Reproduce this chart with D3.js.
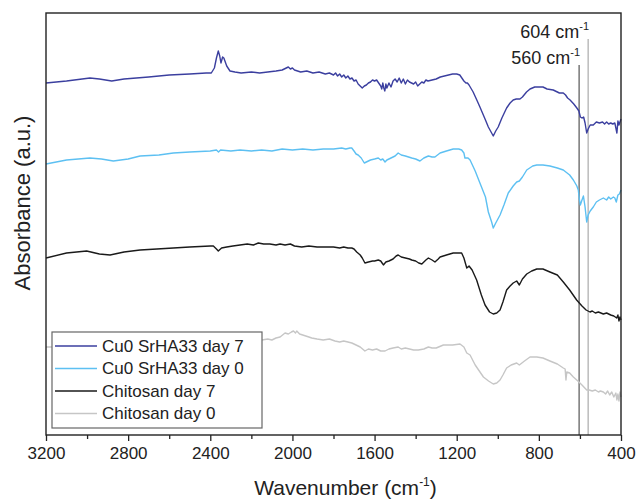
<!DOCTYPE html>
<html>
<head>
<meta charset="utf-8">
<script src="https://cdn.jsdelivr.net/npm/d3@7"></script>
<style>
  body { margin: 0; background: #fff; }
  text { font-family: "Liberation Sans", Arial, sans-serif; }
</style>
</head>
<body>
<div id="main"></div>
<script>
const ctx = {
    w: 636,
    h: 502,
};

// wavenumber (cm-1), absorbance (a.u., offset spectra)
const cuDay7 = [
    [3200, 1.76], [3100, 1.77], [2986, 1.785], [2940, 1.78], [2880, 1.77], [2820, 1.78],
    [2700, 1.79], [2600, 1.80], [2500, 1.805], [2420, 1.81], [2395, 1.81], [2380, 1.835],
    [2370, 1.885], [2361, 1.92], [2354, 1.895], [2348, 1.86], [2340, 1.89], [2334, 1.885],
    [2320, 1.845], [2304, 1.82], [2280, 1.815], [2250, 1.81], [2200, 1.815], [2160, 1.81],
    [2120, 1.815], [2080, 1.82], [2050, 1.825], [2030, 1.835], [2020, 1.84], [2010, 1.83],
    [2000, 1.835], [1990, 1.825], [1960, 1.815], [1930, 1.82], [1900, 1.81], [1870, 1.815],
    [1840, 1.805], [1820, 1.81], [1800, 1.80], [1790, 1.81], [1780, 1.795], [1770, 1.805],
    [1760, 1.79], [1750, 1.80], [1740, 1.785], [1730, 1.795], [1720, 1.78], [1710, 1.785],
    [1700, 1.77], [1690, 1.775], [1680, 1.755], [1670, 1.745], [1660, 1.735], [1650, 1.745],
    [1640, 1.75], [1630, 1.76], [1620, 1.765], [1610, 1.775], [1600, 1.77], [1590, 1.775],
    [1580, 1.76], [1570, 1.745], [1565, 1.73], [1560, 1.76], [1555, 1.735], [1550, 1.72],
    [1545, 1.755], [1540, 1.735], [1530, 1.76], [1520, 1.74], [1510, 1.77], [1500, 1.78],
    [1490, 1.765], [1480, 1.785], [1470, 1.76], [1460, 1.78], [1450, 1.755], [1440, 1.775],
    [1430, 1.765], [1420, 1.76], [1410, 1.755], [1400, 1.765], [1390, 1.745], [1380, 1.755],
    [1370, 1.765], [1360, 1.76], [1350, 1.775], [1340, 1.77], [1320, 1.775], [1300, 1.78],
    [1280, 1.79], [1260, 1.795], [1240, 1.80], [1220, 1.805], [1200, 1.805], [1185, 1.80],
    [1175, 1.785], [1165, 1.77], [1155, 1.76], [1148, 1.76], [1140, 1.75], [1120, 1.715],
    [1100, 1.67], [1087, 1.64], [1060, 1.575], [1046, 1.54], [1030, 1.51], [1022, 1.495],
    [1010, 1.52], [998, 1.54], [980, 1.585], [957, 1.635], [940, 1.66], [925, 1.675],
    [910, 1.68], [900, 1.68], [892, 1.68], [880, 1.69], [860, 1.715], [843, 1.73],
    [820, 1.74], [800, 1.74], [780, 1.74], [760, 1.73], [730, 1.725], [700, 1.71],
    [681, 1.71], [670, 1.70], [660, 1.685], [648, 1.675], [630, 1.655], [615, 1.635],
    [605, 1.62], [598, 1.59], [590, 1.585], [582, 1.59], [575, 1.56], [567, 1.51],
    [560, 1.53], [550, 1.55], [535, 1.55], [520, 1.565], [505, 1.56], [490, 1.565],
    [480, 1.555], [470, 1.565], [460, 1.555], [450, 1.56], [440, 1.555], [430, 1.56],
    [420, 1.51], [415, 1.57], [410, 1.55], [400, 1.58]
];

const cuDay0 = [
    [3200, 1.355], [3100, 1.375], [2986, 1.385], [2930, 1.38], [2872, 1.37], [2800, 1.38],
    [2742, 1.395], [2650, 1.40], [2580, 1.41], [2500, 1.415], [2400, 1.42], [2370, 1.425],
    [2360, 1.415], [2350, 1.425], [2300, 1.42], [2255, 1.425], [2200, 1.42], [2150, 1.425],
    [2100, 1.42], [2050, 1.43], [2000, 1.425], [1950, 1.43], [1900, 1.425], [1850, 1.43],
    [1800, 1.43], [1760, 1.435], [1740, 1.43], [1720, 1.435], [1711, 1.435], [1700, 1.42],
    [1690, 1.405], [1680, 1.40], [1665, 1.385], [1650, 1.36], [1640, 1.365], [1630, 1.37],
    [1620, 1.375], [1600, 1.38], [1582, 1.385], [1570, 1.375], [1560, 1.38], [1549, 1.365],
    [1540, 1.375], [1520, 1.385], [1500, 1.395], [1485, 1.41], [1470, 1.40], [1450, 1.395],
    [1419, 1.385], [1400, 1.38], [1379, 1.37], [1360, 1.385], [1338, 1.395], [1320, 1.39],
    [1306, 1.39], [1281, 1.41], [1250, 1.42], [1217, 1.43], [1190, 1.43], [1176, 1.425],
    [1165, 1.41], [1160, 1.385], [1145, 1.385], [1135, 1.375], [1110, 1.32], [1087, 1.26],
    [1060, 1.19], [1046, 1.115], [1030, 1.065], [1022, 1.035], [1010, 1.06], [989, 1.10],
    [970, 1.15], [949, 1.21], [925, 1.245], [908, 1.265], [895, 1.27], [880, 1.29],
    [859, 1.325], [830, 1.345], [810, 1.35], [780, 1.35], [746, 1.345], [710, 1.335],
    [681, 1.325], [650, 1.30], [632, 1.275], [615, 1.245], [608, 1.225], [603, 1.18],
    [598, 1.15], [590, 1.175], [583, 1.195], [575, 1.14], [567, 1.065], [560, 1.10],
    [550, 1.12], [535, 1.14], [520, 1.165], [505, 1.175], [486, 1.185], [470, 1.175],
    [460, 1.19], [450, 1.18], [437, 1.19], [430, 1.185], [423, 1.165], [415, 1.20],
    [408, 1.205], [400, 1.225]
];

const chitDay7 = [
    [3200, 0.885], [3100, 0.91], [3002, 0.92], [2940, 0.905], [2888, 0.90], [2820, 0.915],
    [2742, 0.925], [2660, 0.93], [2580, 0.935], [2500, 0.94], [2400, 0.945], [2385, 0.945],
    [2370, 0.93], [2361, 0.92], [2345, 0.935], [2320, 0.94], [2290, 0.945], [2255, 0.95],
    [2220, 0.955], [2190, 0.95], [2166, 0.96], [2140, 0.955], [2110, 0.955], [2080, 0.95],
    [2060, 0.955], [2036, 0.95], [2010, 0.955], [1990, 0.945], [1955, 0.94], [1920, 0.945],
    [1880, 0.94], [1840, 0.94], [1800, 0.94], [1770, 0.935], [1750, 0.94], [1730, 0.935],
    [1711, 0.935], [1700, 0.93], [1687, 0.915], [1670, 0.90], [1660, 0.885], [1647, 0.86],
    [1630, 0.865], [1610, 0.87], [1600, 0.87], [1582, 0.875], [1570, 0.87], [1560, 0.855],
    [1557, 0.85], [1545, 0.865], [1530, 0.87], [1510, 0.88], [1495, 0.895], [1485, 0.90],
    [1470, 0.89], [1450, 0.885], [1430, 0.88], [1419, 0.875], [1400, 0.87], [1385, 0.86],
    [1370, 0.855], [1350, 0.875], [1338, 0.885], [1320, 0.875], [1306, 0.865], [1290, 0.88],
    [1281, 0.89], [1250, 0.90], [1217, 0.91], [1190, 0.91], [1176, 0.91], [1165, 0.885],
    [1151, 0.835], [1140, 0.845], [1125, 0.825], [1103, 0.775], [1080, 0.70], [1062, 0.65],
    [1040, 0.615], [1022, 0.605], [1005, 0.61], [989, 0.625], [975, 0.665], [957, 0.725],
    [940, 0.745], [925, 0.76], [908, 0.77], [895, 0.75], [880, 0.78], [859, 0.805],
    [835, 0.82], [810, 0.83], [780, 0.83], [746, 0.815], [710, 0.80], [681, 0.765],
    [650, 0.725], [616, 0.675], [590, 0.645], [570, 0.625], [551, 0.615], [540, 0.62],
    [525, 0.61], [510, 0.615], [486, 0.605], [470, 0.61], [450, 0.60], [435, 0.595],
    [421, 0.585], [415, 0.60], [410, 0.57], [405, 0.59], [400, 0.575]
];

const chitDay0 = [
    [3200, 0.44], [3150, 0.44], [3050, 0.445], [2900, 0.45], [2750, 0.455], [2600, 0.46],
    [2450, 0.465], [2300, 0.47], [2200, 0.47], [2149, 0.475], [2120, 0.48], [2100, 0.475],
    [2080, 0.485], [2060, 0.49], [2036, 0.51], [2020, 0.505], [2005, 0.515], [1995, 0.52],
    [1985, 0.51], [1979, 0.52], [1965, 0.505], [1950, 0.50], [1935, 0.495], [1920, 0.49],
    [1906, 0.485], [1880, 0.48], [1850, 0.475], [1820, 0.48], [1793, 0.47], [1770, 0.465],
    [1750, 0.47], [1730, 0.465], [1711, 0.46], [1690, 0.45], [1670, 0.44], [1647, 0.42],
    [1630, 0.43], [1610, 0.425], [1590, 0.43], [1570, 0.42], [1549, 0.42], [1530, 0.43],
    [1510, 0.435], [1485, 0.44], [1470, 0.43], [1450, 0.435], [1430, 0.43], [1410, 0.425],
    [1387, 0.425], [1360, 0.43], [1338, 0.44], [1320, 0.435], [1300, 0.435], [1265, 0.45],
    [1220, 0.45], [1184, 0.455], [1165, 0.44], [1151, 0.41], [1135, 0.40], [1110, 0.35],
    [1090, 0.32], [1070, 0.29], [1045, 0.27], [1022, 0.255], [1005, 0.26], [989, 0.275],
    [975, 0.30], [957, 0.335], [935, 0.35], [908, 0.36], [895, 0.35], [870, 0.37],
    [843, 0.39], [810, 0.39], [780, 0.385], [746, 0.37], [710, 0.355], [681, 0.335],
    [672, 0.33], [668, 0.275], [664, 0.315], [650, 0.31], [632, 0.29], [610, 0.27],
    [590, 0.25], [567, 0.225], [555, 0.225], [540, 0.22], [525, 0.225], [510, 0.215],
    [500, 0.22], [486, 0.215], [475, 0.205], [465, 0.22], [455, 0.20], [445, 0.215],
    [435, 0.19], [425, 0.21], [420, 0.175], [415, 0.205], [410, 0.17], [405, 0.215],
    [400, 0.19]
];

const seriesNames = ["Cu0 SrHA33 day 7", "Cu0 SrHA33 day 0", "Chitosan day 7", "Chitosan day 0"];
const seriesData = [cuDay7, cuDay0, chitDay7, chitDay0];
const seriesColors = ["#3b3f9f", "#5dc0f2", "#1a1a1a", "#c6c6c6"];

const majorTicks = [3200, 2800, 2400, 2000, 1600, 1200, 800, 400];
const minorTicks = [3000, 2600, 2200, 1800, 1400, 1000, 600];

// marker lines: wavenumber, top (a.u.), label text
const markerWn = [604, 560];
const markerTop = [1.85, 1.98];
const markerLabels = ["560 cm", "604 cm"];
const markerColors = ["#555", "#aaa"];

function createViz() {
    const margin = {top: 13, right: 15, bottom: 67, left: 46};
    const width = ctx.w - margin.left - margin.right;
    const height = ctx.h - margin.top - margin.bottom;

    const svgEl = d3.select("#main").append("svg")
        .attr("width", ctx.w)
        .attr("height", ctx.h);

    const x = d3.scaleLinear().domain([3200, 400]).range([0, width]);
    const y = d3.scaleLinear().domain([0, 2.11]).range([height, 0]);

    const g = svgEl.append("g").attr("transform", `translate(${margin.left},${margin.top})`);

    // marker lines
    markerWn.forEach((wn, i) => {
        g.append("line")
            .attr("x1", x(wn)).attr("x2", x(wn))
            .attr("y1", y(markerTop[i])).attr("y2", height)
            .attr("stroke", markerColors[i])
            .attr("stroke-width", 1.2);
        const t = g.append("text")
            .attr("x", x(wn) + 1)
            .attr("y", y(markerTop[i]) - 1)
            .attr("text-anchor", "end")
            .style("font-size", "18px")
            .style("fill", "#222")
            .text(markerLabels[i]);
        t.append("tspan")
            .attr("dy", -8)
            .style("font-size", "11px")
            .text("-1");
    });

    const line = d3.line()
        .x(d => x(d[0]))
        .y(d => y(d[1]));

    // draw the bottom spectrum first
    for (let i = seriesData.length - 1; i >= 0; i--) {
        g.append("path")
            .datum(seriesData[i])
            .attr("fill", "none")
            .attr("stroke", seriesColors[i])
            .attr("stroke-width", 1.4)
            .attr("stroke-linejoin", "round")
            .attr("d", line);
    }

    // frame
    g.append("rect")
        .attr("width", width)
        .attr("height", height)
        .attr("fill", "none")
        .attr("stroke", "#222")
        .attr("stroke-width", 1.4);

    const xAxis = g.append("g")
        .attr("transform", `translate(0,${height})`)
        .call(d3.axisBottom(x).tickValues(majorTicks).tickSize(6).tickPadding(6).tickFormat(d3.format("d")));
    xAxis.select(".domain").remove();
    xAxis.selectAll("text")
        .style("font-size", "17px")
        .style("font-family", "'Liberation Sans', Arial, sans-serif")
        .style("fill", "#222");
    xAxis.selectAll("line").attr("stroke", "#222").attr("stroke-width", 1.3);

    const xMinor = g.append("g")
        .attr("transform", `translate(0,${height})`)
        .call(d3.axisBottom(x).tickValues(minorTicks).tickSize(4).tickFormat(""));
    xMinor.select(".domain").remove();
    xMinor.selectAll("line").attr("stroke", "#222").attr("stroke-width", 1.3);

    // axis titles
    const xt = svgEl.append("text")
        .attr("x", margin.left + width / 2 + 12)
        .attr("y", 495)
        .attr("text-anchor", "middle")
        .style("font-size", "21px")
        .style("fill", "#222")
        .text("Wavenumber (cm");
    xt.append("tspan").attr("dy", -9).style("font-size", "12px").text("-1");
    xt.append("tspan").attr("dy", 9).text(")");

    svgEl.append("text")
        .attr("transform", `translate(30,${margin.top + 190}) rotate(-90)`)
        .attr("text-anchor", "middle")
        .style("font-size", "22px")
        .style("fill", "#222")
        .text("Absorbance (a.u.)");

    // legend
    const leg = svgEl.append("g");
    leg.append("rect")
        .attr("x", 52).attr("y", 332)
        .attr("width", 210).attr("height", 96)
        .attr("fill", "#fff")
        .attr("stroke", "#666")
        .attr("stroke-width", 1.2);
    seriesNames.forEach((name, i) => {
        const cy = 346 + i * 22.5;
        leg.append("line")
            .attr("x1", 55).attr("x2", 97)
            .attr("y1", cy).attr("y2", cy)
            .attr("stroke", seriesColors[i])
            .attr("stroke-width", 1.4);
        leg.append("text")
            .attr("x", 102).attr("y", cy)
            .attr("dominant-baseline", "central")
            .style("font-size", "17px")
            .style("fill", "#222")
            .text(name);
    });
}

createViz();
</script>
</body>
</html>
